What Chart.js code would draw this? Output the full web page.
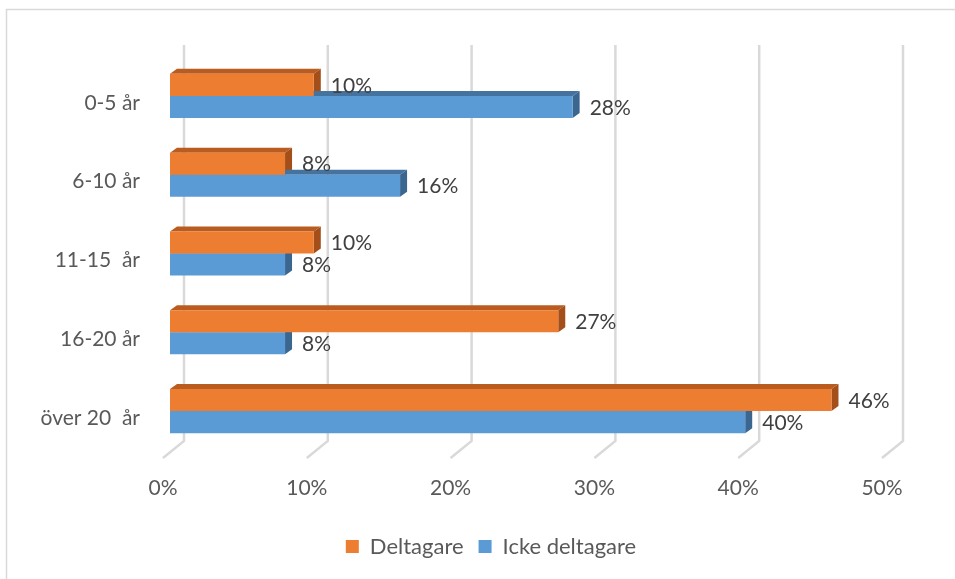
<!DOCTYPE html>
<html>
<head>
<meta charset="utf-8">
<script src="https://cdn.jsdelivr.net/npm/chart.js@4.4.1/dist/chart.umd.min.js"></script>
<style>
  body { margin: 0; background: #fff; }
  canvas { display: block; }
</style>
</head>
<body>
<canvas id="myChart" width="955" height="579"></canvas>
<script>
// Age groups and share of each group (percent)
const ageGroups = ['0-5 år', '6-10 år', '11-15  år', '16-20 år', 'över 20  år']
const deltagare = [10, 8, 10, 27, 46]
const ickeDeltagare = [28, 16, 8, 8, 40]
const xTicks = [0, 10, 20, 30, 40, 50]

const textColor = '#595959'
const depthX = 7   // fake 3D depth of the bars
const depthY = 5

// draws the frame, slanted 3D gridlines, bar tops/sides and value labels
const fake3d = {
    id: 'fake3d',
    afterLayout(chart) {
        // legend sits a bit right of the canvas centre in the original
        chart.legend.left += 46.5
        chart.legend.right += 46.5
    },
    beforeDraw(chart) {
        const ctx = chart.ctx
        const xScale = chart.scales.x
        ctx.save()
        ctx.strokeStyle = '#d9d9d9'
        ctx.lineWidth = 1.5
        ctx.beginPath()
        ctx.moveTo(6.5, 579)
        ctx.lineTo(6.5, 9.5)
        ctx.lineTo(955, 9.5)
        ctx.stroke()

        ctx.lineWidth = 2.5
        xScale.ticks.forEach(t => {
            const px = xScale.getPixelForValue(t.value)
            ctx.beginPath()
            ctx.moveTo(px + 14, 45)
            ctx.lineTo(px + 14, 441)
            ctx.lineTo(px - 7, 458)
            ctx.stroke()
        })
        ctx.restore()
    },
    beforeDatasetsDraw(chart) {
        const ctx = chart.ctx
        ctx.save()
        chart.data.datasets.forEach((ds, i) => {
            chart.getDatasetMeta(i).data.forEach(bar => {
                const top = bar.y - bar.height / 2
                const bottom = bar.y + bar.height / 2
                // top face
                ctx.fillStyle = ds.topColor
                ctx.beginPath()
                ctx.moveTo(bar.base, top)
                ctx.lineTo(bar.base + depthX, top - depthY)
                ctx.lineTo(bar.x + depthX, top - depthY)
                ctx.lineTo(bar.x, top)
                ctx.closePath()
                ctx.fill()
                // right face
                ctx.fillStyle = ds.sideColor
                ctx.beginPath()
                ctx.moveTo(bar.x, top)
                ctx.lineTo(bar.x + depthX, top - depthY)
                ctx.lineTo(bar.x + depthX, bottom - depthY)
                ctx.lineTo(bar.x, bottom)
                ctx.closePath()
                ctx.fill()
            })
        })
        ctx.restore()
    },
    afterDatasetsDraw(chart) {
        const ctx = chart.ctx
        ctx.save()
        ctx.font = '21px Lato'
        ctx.fillStyle = '#404040'
        ctx.textAlign = 'left'
        ctx.textBaseline = 'middle'
        chart.data.datasets.forEach((ds, i) => {
            chart.getDatasetMeta(i).data.forEach((bar, j) => {
                ctx.fillText(ds.data[j] + '%', bar.x + 17, bar.y + 1)
            })
        })
        ctx.restore()
    }
}

const ctx = document.getElementById('myChart')
const myChart = new Chart(ctx, {
    type: 'bar',
    data: {
        labels: ageGroups,
        datasets: [{
            label: 'Deltagare',
            data: deltagare,
            backgroundColor: '#ED7D31',
            topColor: '#BA5C20',
            sideColor: '#A44F1A',
            categoryPercentage: 0.56,
            barPercentage: 1
        },
        {
            label: 'Icke deltagare',
            data: ickeDeltagare,
            backgroundColor: '#5B9BD5',
            topColor: '#4573A0',
            sideColor: '#3B6690',
            categoryPercentage: 0.56,
            barPercentage: 1
        }]
    },
    options: {
        indexAxis: 'y',
        responsive: false,
        animation: false,
        layout: {
            padding: { top: 56.5, right: 66, bottom: 11.5, left: 0 }
        },
        scales: {
            x: {
                min: 0,
                max: 50,
                grid: { display: false, drawTicks: false },
                border: { display: false },
                afterBuildTicks: scale => {
                    scale.ticks = xTicks.map(v => ({ value: v }))
                },
                afterFit: scale => { scale.height = 70 },
                ticks: {
                    padding: 25,
                    labelOffset: -7,
                    color: textColor,
                    font: { family: 'Lato', size: 21 },
                    callback: v => v + '%'
                }
            },
            y: {
                grid: { display: false, drawTicks: false },
                border: { display: false },
                afterFit: scale => { scale.width = 170 },
                ticks: {
                    padding: 30,
                    labelOffset: 7,
                    color: textColor,
                    font: { family: 'Lato', size: 21 }
                }
            }
        },
        plugins: {
            legend: {
                position: 'bottom',
                labels: {
                    boxWidth: 13,
                    boxHeight: 13,
                    padding: 15,
                    color: textColor,
                    font: { family: 'Lato', size: 22 }
                }
            },
            tooltip: { enabled: false }
        }
    },
    plugins: [fake3d]
})
</script>
</body>
</html>
